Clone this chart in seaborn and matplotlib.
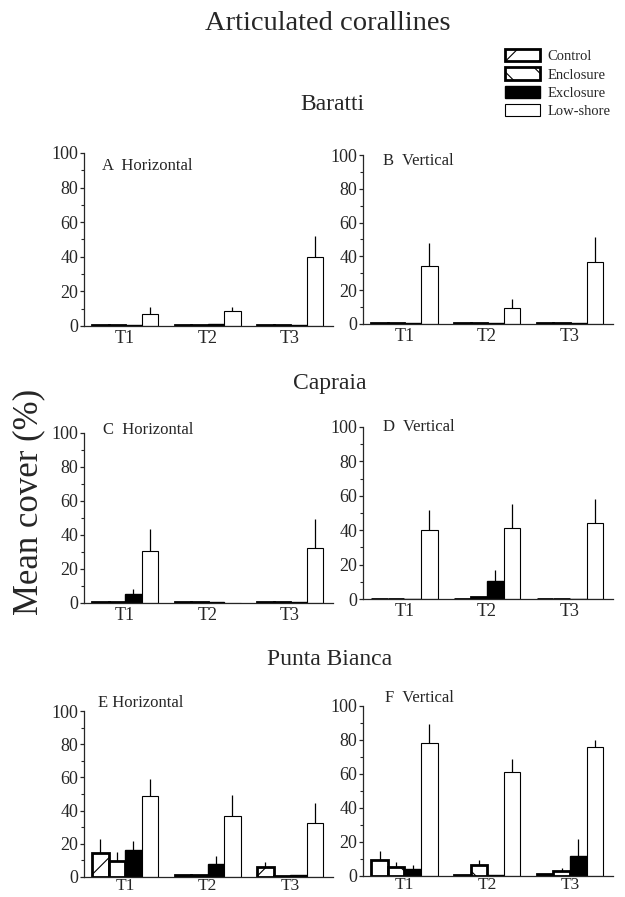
import numpy as np
import pandas as pd
import matplotlib
matplotlib.use("Agg")
import matplotlib.pyplot as plt
from matplotlib.patches import Patch
from matplotlib.ticker import MultipleLocator
import seaborn as sns

times = ["T1", "T2", "T3"]
treatments = ["Control", "Enclosure", "Exclosure", "Low-shore"]

# mean cover (%), rows = treatments, cols = T1..T3 ; se = upper error bar
baratti_h_mean = [[0.3, 0.3, 0.3], [0.4, 0.3, 0.3], [0.3, 1.0, 0.3], [7.0, 8.5, 40.0]]
baratti_h_se = [[0, 0, 0], [0, 0, 0], [0, 0, 0], [4.0, 2.2, 12.0]]
baratti_v_mean = [[0.3, 0.3, 0.3], [0.3, 0.5, 0.3], [0.3, 0.5, 0.3], [34.5, 9.5, 36.5]]
baratti_v_se = [[0, 0, 0], [0, 0, 0], [0, 0, 0], [13.5, 5.0, 15.0]]
capraia_h_mean = [[0.5, 0.3, 0.3], [0.5, 0.3, 0.3], [5.5, 0.5, 0.3], [30.5, 0.0, 32.5]]
capraia_h_se = [[0, 0, 0], [0, 0, 0], [3.0, 0, 0], [13.0, 0, 17.0]]
capraia_v_mean = [[0.3, 0.3, 0.3], [0.3, 1.0, 0.3], [0.3, 10.2, 0.3], [40.0, 41.0, 44.0]]
capraia_v_se = [[0, 0, 0], [0, 0, 0], [0, 6.8, 0], [11.5, 14.5, 14.0]]
punta_h_mean = [[14.3, 1.0, 6.3], [9.9, 1.0, 0.3], [16.2, 8.0, 1.0], [48.7, 37.0, 32.5]]
punta_h_se = [[8.3, 0, 2.5], [5.0, 0, 0], [5.5, 4.4, 0], [10.3, 12.3, 12.0]]
punta_v_mean = [[9.3, 0.3, 1.4], [5.4, 6.4, 2.9], [4.3, 0.3, 11.6], [78.3, 61.0, 76.0]]
punta_v_se = [[5.2, 0, 0], [2.9, 2.9, 1.9], [1.9, 0, 10.1], [11.1, 8.0, 3.7]]

sns.set_style("ticks")
plt.rcParams["font.family"] = ["Liberation Serif", "DejaVu Serif"]
plt.rcParams["hatch.linewidth"] = 0.8

styles = {
    "Control": dict(fc="white", hatch="/", lw=2.0),
    "Enclosure": dict(fc="white", hatch="\\", lw=2.0),
    "Exclosure": dict(fc="black", hatch="", lw=1.0),
    "Low-shore": dict(fc="white", hatch="", lw=0.8),
}
palette = {t: styles[t]["fc"] for t in treatments}


def make_df(mean, se):
    rows = []
    for i, t in enumerate(treatments):
        for j, tm in enumerate(times):
            rows.append({"time": tm, "treatment": t, "cover": mean[i][j], "se": se[i][j]})
    return pd.DataFrame(rows)


def panel(ax, mean, se, label, lx, ly, xpad=3, xsize=13):
    df = make_df(mean, se)
    sns.barplot(data=df, x="time", y="cover", hue="treatment", order=times,
                hue_order=treatments, palette=palette, saturation=1,
                errorbar=None, edgecolor="black", width=0.8, legend=False, ax=ax)
    bar_conts = list(ax.containers)
    for i, cont in enumerate(bar_conts):
        st = styles[treatments[i]]
        sub = df[df.treatment == treatments[i]]
        xs, ys, es = [], [], []
        for p, (_, r) in zip(cont.patches, sub.iterrows()):
            p.set_hatch(st["hatch"])
            p.set_linewidth(st["lw"])
            p.set_edgecolor("black")
            if r.se > 0:
                xs.append(p.get_x() + p.get_width() / 2)
                ys.append(r.cover)
                es.append(r.se)
        if xs:
            ax.errorbar(xs, ys, yerr=[np.zeros(len(es)), es], fmt="none",
                        ecolor="black", elinewidth=0.9, capsize=0, zorder=1)
    ax.set_ylim(0, 100)
    ax.set_xlim(-0.5, 2.52)
    ax.yaxis.set_major_locator(MultipleLocator(20))
    ax.yaxis.set_minor_locator(MultipleLocator(10))
    ax.tick_params(axis="y", which="major", length=3, width=0.9, labelsize=13, pad=1)
    ax.tick_params(axis="y", which="minor", length=2, width=0.8)
    ax.tick_params(axis="x", length=0, labelsize=xsize, pad=xpad)
    ax.set_xlabel("")
    ax.set_ylabel("")
    sns.despine(ax=ax)
    for s in ["left", "bottom"]:
        ax.spines[s].set_linewidth(0.9)
    ax.text(lx, ly, label, transform=ax.transAxes, fontsize=12,
            ha="left", va="center")


fig = plt.figure(figsize=(6.25, 8.97), dpi=100)

axA = fig.add_axes([0.1344, 0.6366, 0.3984, 0.1929])
axB = fig.add_axes([0.5808, 0.6388, 0.4, 0.1884])
axC = fig.add_axes([0.1344, 0.3278, 0.3984, 0.1895])
axD = fig.add_axes([0.5808, 0.3322, 0.4, 0.1918])
axE = fig.add_axes([0.1344, 0.0223, 0.3984, 0.1850])
axF = fig.add_axes([0.5808, 0.0235, 0.4, 0.1895])

panel(axA, baratti_h_mean, baratti_h_se, "A  Horizontal", 0.072, 0.925)
panel(axB, baratti_v_mean, baratti_v_se, "B  Vertical", 0.08, 0.965)
panel(axC, capraia_h_mean, capraia_h_se, "C  Horizontal", 0.076, 1.02)
panel(axD, capraia_v_mean, capraia_v_se, "D  Vertical", 0.08, 1.0)
panel(axE, punta_h_mean, punta_h_se, "E Horizontal", 0.056, 1.05, xpad=0.5, xsize=12.5)
panel(axF, punta_v_mean, punta_v_se, "F  Vertical", 0.088, 1.045, xpad=0.5, xsize=12.5)

fig.text(328 / 625, 1 - 24 / 897, "Articulated corallines", fontsize=20.5, ha="center", va="center")
fig.text(332 / 625, 1 - 104 / 897, "Baratti", fontsize=17, ha="center", va="center")
fig.text(330 / 625, 1 - 383 / 897, "Capraia", fontsize=17, ha="center", va="center")
fig.text(330 / 625, 1 - 659 / 897, "Punta Bianca", fontsize=17, ha="center", va="center")
fig.text(29 / 625, 1 - 502 / 897, "Mean cover (%)", fontsize=25, rotation=90,
         ha="center", va="center")

handles = [Patch(facecolor=styles[t]["fc"], edgecolor="black", hatch=styles[t]["hatch"],
                 linewidth=styles[t]["lw"]) for t in treatments]
fig.legend(handles, treatments, loc="upper left", bbox_to_anchor=(505 / 625, 1 - 49 / 897),
           frameon=False, fontsize=10.5, handlelength=2.4, handleheight=0.9,
           handletextpad=0.5, labelspacing=0.3, borderpad=0, borderaxespad=0)

fig.savefig("out.png", dpi=100)
